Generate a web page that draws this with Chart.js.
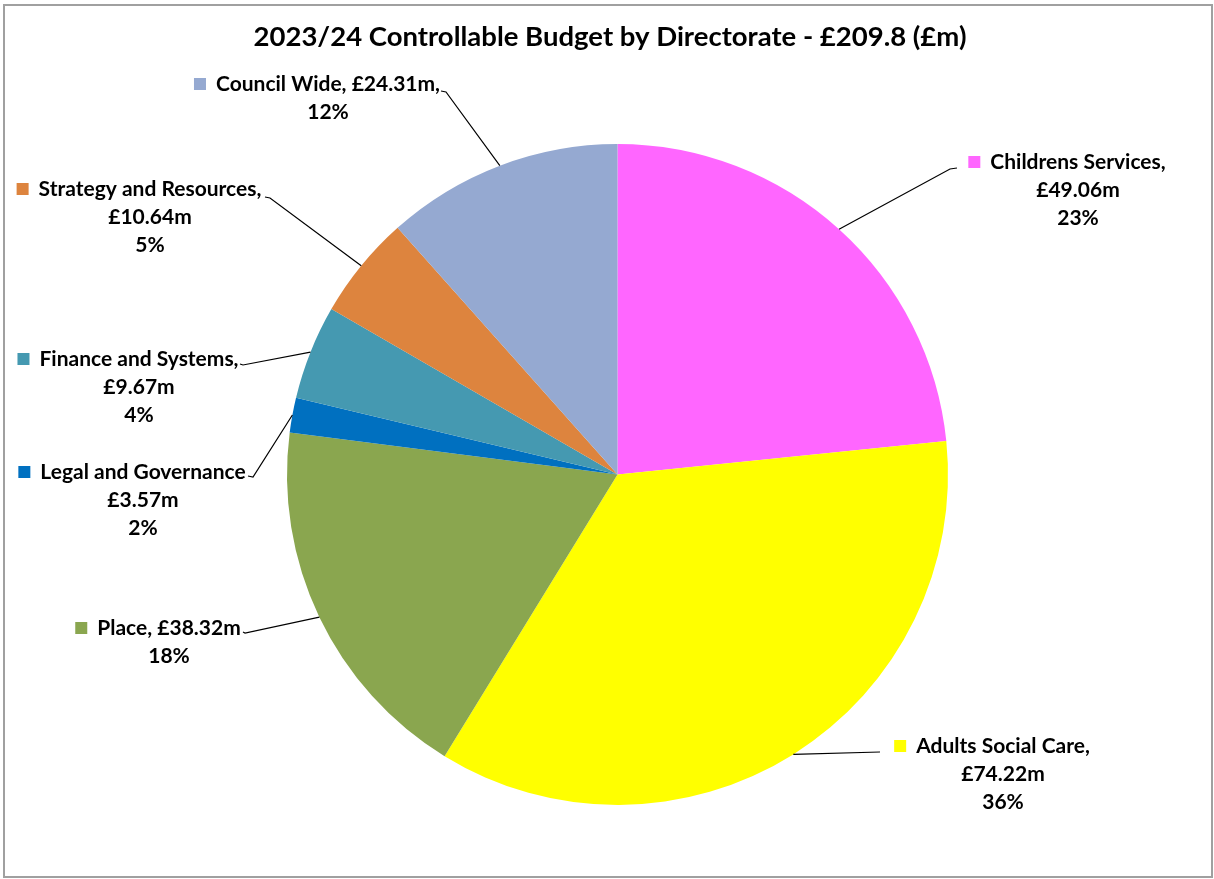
<!DOCTYPE html>
<html lang="en">
<head>
  <meta charset="UTF-8" />
  <title>2023/24 Controllable Budget by Directorate</title>
  <script src="https://cdn.jsdelivr.net/npm/chart.js"></script>
  <style>
    body {
      margin: 0;
      background: #ffffff;
    }
    #wrap {
      width: 1214px;
      height: 879px;
    }
  </style>
</head>
<body>
  <div id="wrap"><canvas id="pie" width="1214" height="879"></canvas></div>

  <script>
    const titleText = '2023/24 Controllable Budget by Directorate - £209.8 (£m)';
    const directorates = ['Childrens Services', 'Adults Social Care', 'Place', 'Legal and Governance',
                          'Finance and Systems', 'Strategy and Resources', 'Council Wide'];
    const budgetM = [49.06, 74.22, 38.32, 3.57, 9.67, 10.64, 24.31];
    // percentages as printed on the chart
    const sharePct = [23, 36, 18, 2, 4, 5, 12];
    const sliceColours = ['#ff66ff', '#ffff00', '#8aa64f', '#0070c0', '#4599b1', '#dd843e', '#95a9d1'];

    // where each label sits (text centre, first line y), where its leader line ends and how it wraps
    const labelLayout = [
      { cx: 1078, y: 162, end: [950, 169], hook: 7,  split: true,  comma: true },
      { cx: 1003, y: 746, end: [880, 752], hook: 0,  split: true,  comma: true },
      { cx: 169,  y: 628, end: [245, 633], hook: -2, split: false, comma: false },
      { cx: 143,  y: 472, end: [253, 477], hook: -5, split: true,  comma: false },
      { cx: 139,  y: 359, end: [243, 365], hook: -3, split: true,  comma: true },
      { cx: 150,  y: 189, end: [270, 198], hook: -5, split: true,  comma: true },
      { cx: 328,  y: 84,  end: [446, 92],  hook: -5, split: false, comma: true }
    ];

    const FONT = 'Lato, "Open Sans", sans-serif';

    function labelLines(i) {
      const lay = labelLayout[i];
      const val = '£' + budgetM[i].toFixed(2) + 'm';
      const pct = sharePct[i] + '%';
      if (lay.split) {
        return [directorates[i] + (lay.comma ? ',' : ''), val, pct];
      }
      return [directorates[i] + ', ' + val + (lay.comma ? ',' : ''), pct];
    }

    const decorPlugin = {
      id: 'decor',
      beforeDraw(chart) {
        const c = chart.ctx;
        c.save();
        c.fillStyle = '#ffffff';
        c.fillRect(0, 0, chart.width, chart.height);
        c.strokeStyle = '#a0a0a0';
        c.lineWidth = 2;
        c.strokeRect(4, 5, 1208, 872);
        c.restore();
      },
      afterDraw(chart) {
        const c = chart.ctx;
        const arcs = chart.getDatasetMeta(0).data;
        c.save();

        // title
        c.fillStyle = '#000000';
        c.font = 'bold 27.5px ' + FONT;
        c.textAlign = 'center';
        c.textBaseline = 'middle';
        c.fillText(titleText, 610, 37);

        arcs.forEach((arc, i) => {
          const lay = labelLayout[i];
          const p = arc.getProps(['x', 'y', 'startAngle', 'endAngle', 'outerRadius'], true);
          const mid = (p.startAngle + p.endAngle) / 2;
          const sx = p.x + Math.cos(mid) * p.outerRadius;
          const sy = p.y + Math.sin(mid) * p.outerRadius;

          // leader line
          c.strokeStyle = '#000000';
          c.lineWidth = 1.2;
          c.beginPath();
          c.moveTo(sx, sy);
          c.lineTo(lay.end[0], lay.end[1]);
          if (lay.hook) c.lineTo(lay.end[0] + lay.hook, lay.end[1] - 1);
          c.stroke();

          // label text
          const lines = labelLines(i);
          c.font = 'bold 21px ' + FONT;
          c.fillStyle = '#000000';
          lines.forEach((t, k) => c.fillText(t, lay.cx, lay.y + k * 28));
          const w = c.measureText(lines[0]).width;
          c.fillStyle = sliceColours[i];
          c.fillRect(lay.cx - w / 2 - 22, lay.y - 6, 12, 12);
        });
        c.restore();
      }
    };

    new Chart(document.getElementById('pie'), {
      type: 'pie',
      data: {
        labels: directorates,
        datasets: [{
          data: budgetM,
          backgroundColor: sliceColours,
          borderWidth: 0
        }]
      },
      options: {
        responsive: false,
        animation: false,
        layout: {
          padding: { left: 287, right: 266, top: 144, bottom: 74 }
        },
        plugins: {
          legend: { display: false },
          tooltip: { enabled: false }
        }
      },
      plugins: [decorPlugin]
    });
  </script>
</body>
</html>
